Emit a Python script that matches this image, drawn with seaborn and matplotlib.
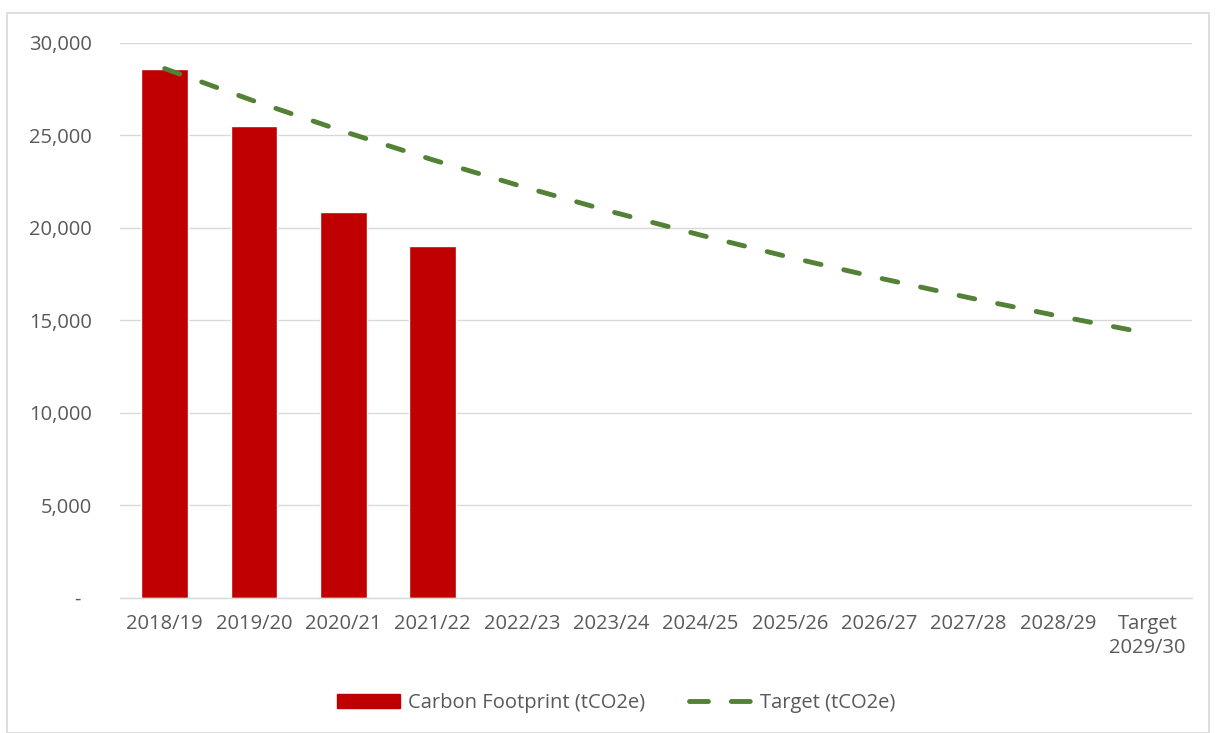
import matplotlib
matplotlib.use("Agg")
import matplotlib.pyplot as plt
import seaborn as sns
import pandas as pd
from matplotlib.patches import Rectangle
from matplotlib.lines import Line2D
from matplotlib.ticker import FuncFormatter

categories = ["2018/19", "2019/20", "2020/21", "2021/22", "2022/23", "2023/24",
              "2024/25", "2025/26", "2026/27", "2027/28", "2028/29", "Target\n2029/30"]
footprint = [28600, 25500, 20850, 19000, None, None, None, None, None, None, None, None]
target = [28600, 26850, 25210, 23670, 22230, 20870, 19600, 18400, 17280, 16220, 15230, 14300]

sns.set_theme(style="white")
plt.rcParams['font.family'] = ['Open Sans', 'DejaVu Sans']

bar_color = "#C00000"
line_color = "#538135"
text_color = "#595959"
fs = 14.5

df = pd.DataFrame({"cat": categories, "footprint": footprint, "target": target})

fig = plt.figure(figsize=(12.16, 7.33), dpi=100)
ax = fig.add_axes([120/1216, 1 - 597.7/733, (1192-120)/1216, (597.7-42.7)/733])

sns.barplot(data=df, x="cat", y="footprint", color=bar_color, width=0.52,
            saturation=1, ax=ax, order=categories)
sns.lineplot(x=list(range(len(categories))), y=df["target"], ax=ax, color=line_color,
             linewidth=3.5, linestyle=(0, (3.3, 4.8)), dash_capstyle="round")

ax.set_xlim(-0.5, len(categories) - 0.5)
ax.set_ylim(0, 30000)
ax.set_yticks([0, 5000, 10000, 15000, 20000, 25000, 30000])
ax.yaxis.set_major_formatter(FuncFormatter(lambda v, p: "-  " if v == 0 else f"{int(v):,}"))
ax.grid(axis="y", color="#D9D9D9", linewidth=1)
ax.set_axisbelow(True)
for s in ["top", "right", "left"]:
    ax.spines[s].set_visible(False)
ax.spines["bottom"].set_color("#D9D9D9")
ax.spines["bottom"].set_linewidth(1)
ax.tick_params(axis="both", colors=text_color, labelsize=fs, length=0)
ax.tick_params(axis="y", pad=20)
ax.tick_params(axis="x", pad=12)
ax.set_xlabel("")
ax.set_ylabel("")
for lbl in ax.get_xticklabels():
    lbl.set_linespacing(1.25)

# chart frame
fig.patches.append(Rectangle((7/1216, 0), 1 - 14/1216, 1 - 13/733, transform=fig.transFigure,
                             fill=False, edgecolor="#D9D9D9", linewidth=1.2))

handles = [Rectangle((0, 0), 1, 1, color=bar_color),
           Line2D([0], [0], color=line_color, linewidth=3.5, linestyle=(0, (3.9, 4.7)),
                  dash_capstyle="round")]
fig.legend(handles, ["Carbon Footprint (tCO2e)", "Target (tCO2e)"], loc="center",
           bbox_to_anchor=(616/1216, 1 - 703/733), ncol=2, frameon=False, fontsize=fs,
           labelcolor=text_color, handlelength=3.1, handleheight=0.75,
           handletextpad=0.4, columnspacing=2.2)

fig.savefig("out.png", dpi=100)
